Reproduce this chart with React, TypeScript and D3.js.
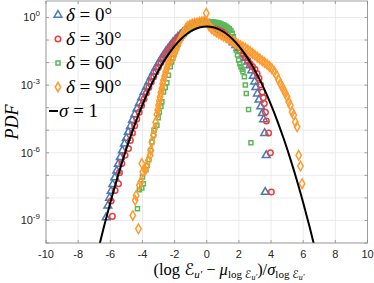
import React from 'react';
import * as d3 from 'd3';

const W = 374, H = 283;
const PL = 46, PR = 367.5, PT = 1, PB = 243;

const xTicks = [-10, -8, -6, -4, -2, 0, 2, 4, 6, 8, 10];
const yLabelExps = [0, -3, -6, -9];
const yDecades = [0, -1, -2, -3, -4, -5, -6, -7, -8, -9, -10];

// delta = 0 deg (x, log10 PDF)
const d0X = [-6.26,-6.15,-6.05,-5.95,-5.85,-5.72,-5.6,-5.5,-5.38,-5.25,-5.12,-5.0,-4.88,-4.75,-4.62,-4.48,-4.34,-4.2,-4.05,-3.9,-3.75,-3.6,-3.45,-3.3,-3.15,-3.0,-2.85,-2.7,-2.55,-2.4,-2.25,-2.1,-1.95,-1.8,-1.65,-1.5,-1.35,-1.2,-1.05,-0.9,-0.75,-0.6,-0.45,-0.3,-0.15,0.0,0.15,0.3,0.45,0.6,0.75,0.9,1.05,1.2,1.35,1.5,1.65,1.8,1.95,2.1,2.25,2.4,2.55,2.68,2.8,2.9,2.98,3.05,3.15,3.25,3.36,3.46,3.54,3.6,3.7,3.64];
const d0L = [-8.87,-8.35,-8.0,-7.7,-7.4,-7.1,-6.8,-6.5,-6.2,-5.9,-5.6,-5.35,-5.08,-4.82,-4.55,-4.3,-4.05,-3.8,-3.55,-3.3,-3.07,-2.85,-2.63,-2.42,-2.22,-2.03,-1.85,-1.68,-1.52,-1.37,-1.23,-1.1,-0.98,-0.87,-0.77,-0.67,-0.58,-0.5,-0.43,-0.37,-0.32,-0.28,-0.25,-0.24,-0.24,-0.26,-0.29,-0.33,-0.38,-0.44,-0.51,-0.59,-0.68,-0.78,-0.89,-1.0,-1.11,-1.23,-1.36,-1.5,-1.65,-1.8,-1.96,-2.13,-2.35,-2.6,-2.85,-3.1,-3.38,-3.65,-3.95,-4.25,-4.52,-5.13,-6.11,-7.74];

// delta = 30 deg
const d30X = [-5.87,-5.95,-5.7,-5.49,-5.43,-5.28,-5.08,-4.87,-4.75,-4.62,-4.48,-4.35,-4.2,-4.05,-3.9,-3.75,-3.6,-3.45,-3.3,-3.15,-3.0,-2.85,-2.7,-2.55,-2.4,-2.25,-2.1,-1.95,-1.8,-1.65,-1.5,-1.35,-1.2,-1.05,-0.9,-0.75,-0.6,-0.45,-0.3,-0.15,0.0,0.15,0.3,0.45,0.6,0.75,0.9,1.05,1.2,1.35,1.5,1.65,1.8,1.95,2.1,2.25,2.4,2.55,2.7,2.85,3.0,3.13,3.25,3.35,3.45,3.52,3.58,3.65,3.71,3.85,3.96,4.02];
const d30L = [-8.82,-8.14,-7.67,-7.37,-6.88,-6.48,-6.11,-5.81,-5.45,-5.12,-4.8,-4.5,-4.2,-3.9,-3.62,-3.35,-3.1,-2.86,-2.63,-2.41,-2.2,-2.0,-1.81,-1.63,-1.47,-1.32,-1.18,-1.05,-0.93,-0.82,-0.72,-0.62,-0.53,-0.45,-0.38,-0.32,-0.28,-0.25,-0.23,-0.23,-0.24,-0.27,-0.3,-0.35,-0.41,-0.48,-0.56,-0.65,-0.75,-0.85,-0.96,-1.07,-1.19,-1.32,-1.46,-1.6,-1.75,-1.9,-2.05,-2.18,-2.3,-2.48,-2.7,-2.98,-3.3,-3.56,-3.81,-4.2,-4.59,-5.12,-6.0,-7.74];

// delta = 60 deg
const d60X = [-4.31,-4.19,-4.04,-3.94,-4.0,-3.78,-3.69,-3.6,-3.5,-3.41,-3.31,-3.28,-3.1,-3.02,-2.95,-2.85,-2.79,-2.69,-2.58,-2.48,-2.38,-2.27,-2.18,-2.11,-2.03,-1.96,-1.88,-1.8,-1.7,-1.6,-1.5,-1.4,-1.3,-1.2,-1.1,-1.0,-0.9,-0.8,-0.7,-0.6,-0.5,-0.4,-0.3,-0.2,-0.1,0.0,0.1,0.2,0.3,0.4,0.5,0.6,0.7,0.8,0.9,1.0,1.1,1.2,1.3,1.4,1.5,1.58,1.65,1.72,1.78,1.84,1.91,1.98,2.06,2.13,2.2,2.25,2.34,2.4,2.46,2.6,2.75];
const d60L = [-8.48,-7.64,-7.56,-7.37,-7.07,-6.75,-6.56,-6.3,-5.9,-5.52,-5.22,-5.0,-4.78,-4.45,-4.2,-3.95,-3.74,-3.3,-3.1,-2.9,-2.56,-2.19,-1.98,-1.81,-1.62,-1.44,-1.3,-1.17,-1.03,-0.92,-0.82,-0.73,-0.65,-0.58,-0.52,-0.47,-0.42,-0.38,-0.34,-0.31,-0.28,-0.26,-0.24,-0.23,-0.22,-0.21,-0.2,-0.2,-0.2,-0.2,-0.21,-0.22,-0.24,-0.26,-0.29,-0.32,-0.35,-0.39,-0.44,-0.5,-0.58,-0.7,-0.85,-1.02,-1.2,-1.44,-1.66,-1.89,-2.05,-2.19,-2.3,-2.41,-2.63,-3.0,-3.37,-4.08,-5.55];

// delta = 90 deg
const d90X = [-4.25,-4.6,-4.45,-4.39,-4.19,-4.1,-3.98,-4.04,-3.83,-3.75,-3.63,-3.52,-3.48,-3.41,-3.31,-3.25,-3.18,-3.1,-3.05,-3.0,-2.95,-2.9,-2.85,-2.79,-2.74,-2.69,-2.62,-2.55,-2.48,-2.4,-2.3,-2.2,-2.1,-2.0,-1.9,-1.8,-1.7,-1.6,-1.5,-1.4,-1.3,-1.2,-1.05,-0.9,-0.75,-0.6,-0.45,-0.3,-0.15,-0.03,0.05,0.15,0.3,0.45,0.6,0.75,0.9,1.05,1.2,1.35,1.5,1.65,1.8,1.95,2.1,2.25,2.4,2.55,2.7,2.85,3.0,3.15,3.3,3.45,3.6,3.75,3.9,4.05,4.2,4.33,4.45,4.58,4.68,4.79,4.89,5.0,5.1,5.2,5.31,5.41,5.51,5.62,5.72,5.83,5.93];
const d90L = [-9.37,-8.78,-8.11,-7.89,-7.44,-7.3,-6.85,-6.48,-6.78,-6.6,-6.33,-6.11,-5.89,-5.52,-5.22,-4.95,-4.65,-4.3,-4.1,-3.89,-3.7,-3.52,-3.33,-3.15,-2.95,-2.78,-2.6,-2.42,-2.25,-2.08,-1.93,-1.82,-1.75,-1.6,-1.42,-1.24,-1.05,-0.9,-0.76,-0.62,-0.5,-0.4,-0.33,-0.29,-0.26,-0.24,-0.21,-0.19,-0.17,0.19,-0.25,-0.38,-0.5,-0.58,-0.65,-0.71,-0.77,-0.83,-0.89,-0.95,-1.01,-1.07,-1.14,-1.19,-1.25,-1.31,-1.37,-1.44,-1.51,-1.6,-1.68,-1.76,-1.84,-1.92,-2.0,-2.08,-2.17,-2.27,-2.4,-2.55,-2.75,-2.93,-3.07,-3.22,-3.37,-3.52,-3.74,-3.89,-4.19,-4.33,-4.63,-4.85,-6.11,-6.59,-7.37];

// sigma = 1 reference curve (x, log10 PDF)
const refX = [-6.8,-6.4,-6.0,-5.6,-5.2,-4.8,-4.4,-4.0,-3.6,-3.2,-2.8,-2.4,-2.0,-1.6,-1.2,-0.8,-0.4,0,0.4,0.8,1.2,1.6,2.0,2.4,2.8,3.2,3.6,4.0,4.4,4.8,5.2,5.6,6.0,6.4,6.8];
const refL = [-10.44,-9.294,-8.216,-7.209,-6.271,-5.402,-4.603,-3.873,-3.213,-2.623,-2.101,-1.650,-1.268,-0.955,-0.712,-0.538,-0.434,-0.399,-0.434,-0.538,-0.712,-0.955,-1.268,-1.650,-2.101,-2.623,-3.213,-3.873,-4.603,-5.402,-6.271,-7.209,-8.216,-9.294,-10.44];

const seriesNames = ['0°', '30°', '60°', '90°'];
const colors = ['#4a7ab5', '#e8403f', '#5cb85a', '#ff9a2e'];
const symbolTypes = [d3.symbolTriangle, d3.symbolCircle, d3.symbolSquare, d3.symbolDiamond];
const symbolSizes = [26, 24, 16, 26];
const seriesX = [d0X, d30X, d60X, d90X];
const seriesL = [d0L, d30L, d60L, d90L];

const serif = "'Liberation Serif', 'DejaVu Serif', serif";
const scriptFont = "'DejaVu Serif', 'DejaVu Sans', serif";
const sans = "'Liberation Sans', Arial, sans-serif";

export default function App() {
  const x = d3.scaleLinear().domain([-10, 10]).range([PL, PR]);
  const y = d3.scaleLog().domain([1e-10, Math.pow(10, 0.73)]).range([PB, PT]);
  const line = d3.line<number>()
    .x((_, i) => x(refX[i]))
    .y((_, i) => y(Math.pow(10, refL[i])))
    .curve(d3.curveMonotoneX);
  const syms = symbolTypes.map((t, i) => d3.symbol().type(t).size(symbolSizes[i])() as string);
  const legendRows = [15, 39, 63, 87];

  return (
    <svg width={W} height={H} style={{ position: 'absolute', left: 0, top: 0, background: '#fff' }}>
      <defs>
        <clipPath id="plotclip"><rect x={PL} y={PT} width={PR - PL} height={PB - PT} /></clipPath>
      </defs>
      <rect x={0} y={0} width={W} height={H} fill="#fff" />
      {/* grid */}
      {xTicks.map(t => (
        <line key={'gx' + t} x1={x(t)} x2={x(t)} y1={PT} y2={PB} stroke="#e6e6e6" strokeWidth={0.8} />
      ))}
      {yDecades.map(e => (
        <line key={'gy' + e} x1={PL} x2={PR} y1={y(Math.pow(10, e))} y2={y(Math.pow(10, e))} stroke="#e6e6e6" strokeWidth={0.8} />
      ))}
      {/* data */}
      <g clipPath="url(#plotclip)">
        {seriesX.map((xs, si) => (
          <g key={'s' + si} stroke={colors[si]} fill="none" strokeWidth={1.5}>
            {xs.map((xv, i) => (
              <path key={i} d={syms[si]} transform={`translate(${x(xv)},${y(Math.pow(10, seriesL[si][i]))})`} />
            ))}
          </g>
        ))}
        <path d={line(refX) as string} fill="none" stroke="#000" strokeWidth={2} />
      </g>
      {/* frame and ticks */}
      <rect x={PL} y={PT} width={PR - PL} height={PB - PT} fill="none" stroke="#8a8a8a" strokeWidth={0.8} />
      {xTicks.map(t => (
        <g key={'tx' + t}>
          <line x1={x(t)} x2={x(t)} y1={PB} y2={PB - 3} stroke="#8a8a8a" strokeWidth={0.8} />
          <line x1={x(t)} x2={x(t)} y1={PT} y2={PT + 3} stroke="#8a8a8a" strokeWidth={0.8} />
          <text x={x(t)} y={258} textAnchor="middle" fontFamily={sans} fontSize={11} fill="#262626">{t}</text>
        </g>
      ))}
      {yDecades.map(e => (
        <g key={'ty' + e}>
          <line x1={PL} x2={PL + 3} y1={y(Math.pow(10, e))} y2={y(Math.pow(10, e))} stroke="#8a8a8a" strokeWidth={0.8} />
          <line x1={PR} x2={PR - 3} y1={y(Math.pow(10, e))} y2={y(Math.pow(10, e))} stroke="#8a8a8a" strokeWidth={0.8} />
        </g>
      ))}
      {yLabelExps.map(e => (
        <text key={'yl' + e} x={40} y={y(Math.pow(10, e)) + 4} textAnchor="end" fontFamily={sans} fontSize={11} fill="#262626">
          10<tspan dy={-5} fontSize={8}>{e === 0 ? '0' : String(e)}</tspan>
        </text>
      ))}
      {/* legend */}
      {seriesNames.map((n, si) => (
        <g key={'lg' + si}>
          <path d={syms[si]} transform={`translate(58,${legendRows[si]})`} stroke={colors[si]} fill="none" strokeWidth={1.5} />
          <text x={66} y={legendRows[si] + 6} fontFamily={serif} fontSize={19} fill="#000">
            <tspan fontStyle="italic">δ</tspan> = {n}
          </text>
        </g>
      ))}
      <line x1={49} x2={58} y1={111} y2={111} stroke="#000" strokeWidth={2} />
      <text x={59} y={117} fontFamily={serif} fontSize={19} fill="#000">
        <tspan fontStyle="italic">σ</tspan> = 1
      </text>
      {/* axis labels */}
      <text transform="translate(18,122) rotate(-90)" textAnchor="middle" fontFamily={serif} fontStyle="italic" fontSize={18} fill="#000">PDF</text>
      <text x={229} y={275} textAnchor="middle" fontFamily={serif} fontSize={16.5} fill="#000">
        (log <tspan fontFamily={scriptFont} fontStyle="italic">ℰ</tspan><tspan fontSize={11} dy={3} fontStyle="italic">u′</tspan>
        <tspan dy={-3}> − </tspan><tspan fontStyle="italic">μ</tspan>
        <tspan fontSize={11} dy={3}>log </tspan><tspan fontSize={11} fontFamily={scriptFont} fontStyle="italic">ℰ</tspan><tspan fontSize={8} dy={1.5} fontStyle="italic">u′</tspan>
        <tspan dy={-4.5}>)/</tspan><tspan fontStyle="italic">σ</tspan>
        <tspan fontSize={11} dy={3}>log </tspan><tspan fontSize={11} fontFamily={scriptFont} fontStyle="italic">ℰ</tspan><tspan fontSize={8} dy={1.5} fontStyle="italic">u′</tspan>
      </text>
    </svg>
  );
}
